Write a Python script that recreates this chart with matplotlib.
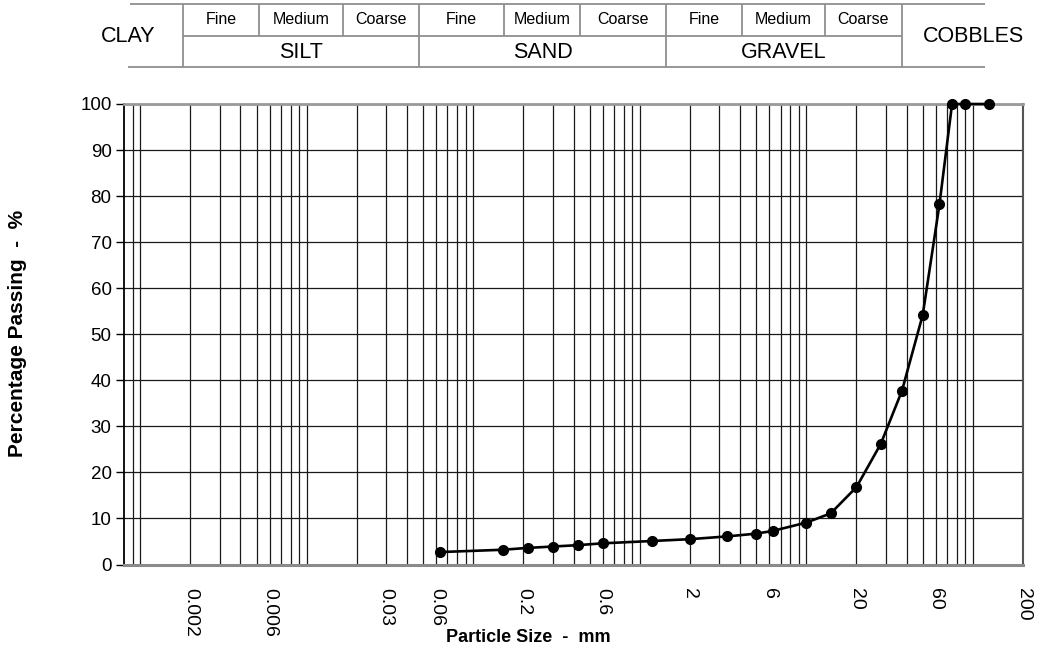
import numpy as np
import matplotlib.pyplot as plt
from matplotlib.ticker import FixedLocator, NullFormatter

plt.rcParams['font.family'] = ['Liberation Sans', 'DejaVu Sans']

# sieve sizes (mm) and cumulative percentage passing
sizes = [0.063, 0.15, 0.212, 0.3, 0.425, 0.6, 1.18, 2, 3.35, 5, 6.3,
         10, 14, 20, 28, 37.5, 50, 63, 75, 90, 125]
passing = [2.7, 3.2, 3.6, 3.9, 4.2, 4.6, 5.1, 5.5, 6.1, 6.7, 7.3,
           9.1, 11.1, 16.8, 26.2, 37.7, 54.2, 78.2, 100, 100, 100]

size_ticks = [0.002, 0.006, 0.03, 0.06, 0.2, 0.6, 2, 6, 20, 60, 200]
size_labels = ['0.002', '0.006', '0.03', '0.06', '0.2', '0.6', '2', '6', '20', '60', '200']
pct_ticks = list(range(0, 101, 10))

soil_types = ['SILT', 'SAND', 'GRAVEL']
grades = ['Fine', 'Medium', 'Coarse']

W, H = 1053, 651
fig = plt.figure(figsize=(W / 100, H / 100), dpi=100)

# main grading chart
x0, x1, ytop, ybot = 124, 1023, 104, 564.5
ax = fig.add_axes([x0 / W, 1 - ybot / H, (x1 - x0) / W, (ybot - ytop) / H])
ax.set_xscale('log')
ax.set_xlim(0.0008, 200)
ax.set_ylim(0, 100)

# log grid lines 1..9 x 10^n up to 100 mm
grid_x = [m * 10.0 ** e for e in range(-4, 3) for m in range(1, 10)]
grid_x = [v for v in grid_x if 0.0008 * 1.001 <= v <= 100 * 1.001]
ax.xaxis.set_minor_locator(FixedLocator(grid_x))
ax.xaxis.set_minor_formatter(NullFormatter())
ax.set_xticks(size_ticks, size_labels, rotation=270, fontsize=14)
ax.tick_params(axis='x', which='both', length=0, pad=17)
ax.grid(True, axis='x', which='both', color='#1a1a1a', lw=0.9)

ax.set_yticks(pct_ticks)
ax.tick_params(axis='y', length=6, width=1, pad=3, labelsize=13.5)
ax.grid(True, axis='y', which='major', color='#1a1a1a', lw=0.9)
ax.set_axisbelow(True)

for side, c, w in [('bottom', '#8a8a8a', 2.2), ('top', '#9a9a9a', 2.0),
                   ('left', 'black', 1.3), ('right', '#555555', 1.5)]:
    ax.spines[side].set_color(c)
    ax.spines[side].set_linewidth(w)

ax.plot(sizes, passing, color='black', lw=1.9, marker='o', ms=7,
        clip_on=False, zorder=5)

ax.set_xlabel('Particle Size  -  mm', fontsize=13, fontweight='bold')
ax.xaxis.set_label_coords((528 - x0) / (x1 - x0), -(637 - ybot) / (ybot - ytop))
ax.xaxis.label.set_va('center')
fig.text(18 / W, 1 - 333 / H, 'Percentage Passing  -  %', rotation=90,
         ha='center', va='center', fontsize=15, fontweight='bold')

# classification strip above the chart, laid out in pixel units
hx = fig.add_axes([0, 1 - 72 / H, 1, 72 / H])
hx.set_xlim(0, W)
hx.set_ylim(72, 0)
hx.axis('off')
edges = [183, 259, 343, 419, 504, 580, 666, 742, 825, 902]
lc = '#8f8f8f'
hx.hlines(4, 130, 985, color=lc, lw=1.3)
hx.hlines(35.5, edges[0], edges[-1], color=lc, lw=1.3)
hx.hlines(67, 128, 985, color=lc, lw=1.3)
for i, e in enumerate(edges):
    bottom = 67 if i % 3 == 0 else 35.5
    hx.vlines(e, 4, bottom, color=lc, lw=1.3)

for k, name in enumerate(soil_types):
    l, r = edges[3 * k], edges[3 * k + 3]
    hx.text((l + r) / 2, 53, name, ha='center', va='center', fontsize=15.5)
    for j, g in enumerate(grades):
        a, b = edges[3 * k + j], edges[3 * k + j + 1]
        hx.text((a + b) / 2, 20, g, ha='center', va='center', fontsize=11.5)
hx.text(128, 37, 'CLAY', ha='center', va='center', fontsize=15.5)
hx.text(973, 37, 'COBBLES', ha='center', va='center', fontsize=15.5)

fig.savefig('out.png', dpi=100)
